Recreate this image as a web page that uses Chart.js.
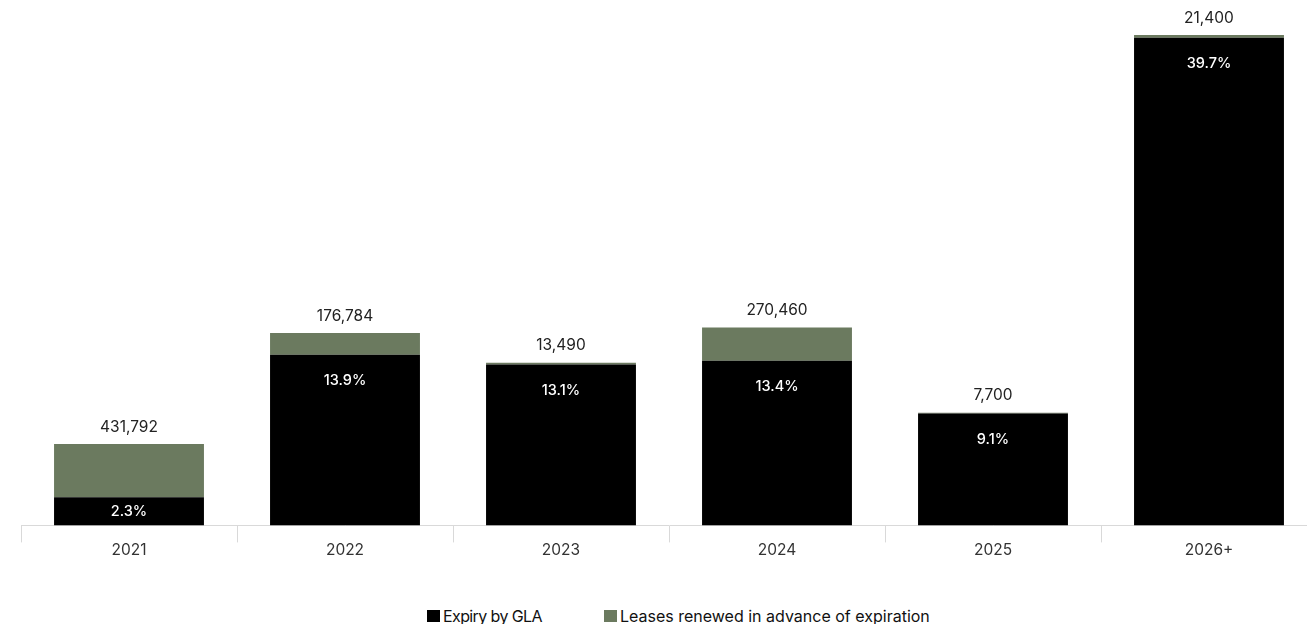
<!DOCTYPE html>
<html>
<head>
<meta charset="utf-8">
<script src="https://cdn.jsdelivr.net/npm/chart.js@4.4.1/dist/chart.umd.min.js"></script>
<style>
  html, body { margin: 0; padding: 0; background: #fff; overflow: hidden; width: 1307px; height: 624px; }
  #wrap { position: relative; width: 1307px; height: 624px; }
  #chart { position: absolute; left: 0; top: 0; }
  #legend { position: absolute; top: 606px; left: 0; font-family: Inter, "Noto Sans", sans-serif; font-size: 16px; color: #111; }
  .item { position: absolute; top: 0; display: flex; align-items: center; white-space: nowrap; }
  .box { width: 13px; height: 12px; margin-right: 3px; }
</style>
</head>
<body>
<div id="wrap">
  <canvas id="chart" width="1320" height="600"></canvas>
  <div id="legend"></div>
</div>
<script>
// Lease expiry schedule: share of GLA expiring per year, plus space renewed early (sq ft)
const years = ['2021', '2022', '2023', '2024', '2025', '2026+'];
const expiryPct = [2.3, 13.9, 13.1, 13.4, 9.1, 39.7];
const renewedSqft = [431792, 176784, 13490, 270460, 7700, 21400];
const totalGlaSqft = 10000000;
const seriesNames = ['Expiry by GLA', 'Leases renewed in advance of expiration'];
const seriesColors = ['#000000', '#6b7a5f'];

const renewedPct = renewedSqft.map(v => v / totalGlaSqft * 100);
const fontFamily = 'Inter, "Noto Sans", sans-serif';

const labelPlugin = {
  id: 'barLabels',
  afterDatasetsDraw(chart) {
    const ctx = chart.ctx;
    const base = chart.getDatasetMeta(0).data;
    const top = chart.getDatasetMeta(1).data;
    ctx.save();
    ctx.textAlign = 'center';
    ctx.textBaseline = 'middle';
    base.forEach((bar, i) => {
      // percentage inside the black bar, near its top
      const h = bar.base - bar.y;
      const y = Math.min(bar.y + 26, bar.y + h / 2);
      ctx.fillStyle = '#ffffff';
      ctx.font = '500 14.5px ' + fontFamily;
      ctx.fillText(expiryPct[i].toFixed(1) + '%', bar.x, y);
      // renewed area above the stack
      ctx.fillStyle = '#222222';
      ctx.font = '400 15.5px ' + fontFamily;
      ctx.fillText(renewedSqft[i].toLocaleString('en-US'), bar.x, top[i].y - 17);
    });
    ctx.restore();
  }
};

new Chart(document.getElementById('chart'), {
  type: 'bar',
  data: {
    labels: years,
    datasets: [
      { label: seriesNames[0], data: expiryPct, backgroundColor: seriesColors[0] },
      { label: seriesNames[1], data: renewedPct, backgroundColor: seriesColors[1] }
    ]
  },
  options: {
    responsive: false,
    animation: false,
    layout: { padding: { left: 21, right: 3, top: 34, bottom: 41 } },
    datasets: { bar: { categoryPercentage: 1, barPercentage: 0.694, borderWidth: 0 } },
    plugins: { legend: { display: false }, tooltip: { enabled: false } },
    scales: {
      x: {
        stacked: true,
        grid: { offset: true, drawOnChartArea: false, tickLength: 17, color: '#d9d9d9', lineWidth: 1 },
        border: { color: '#d9d9d9', width: 1 },
        ticks: { padding: -1, color: '#333333', font: { family: fontFamily, size: 15.5 } }
      },
      y: { stacked: true, display: false, min: 0, max: 40 }
    }
  },
  plugins: [labelPlugin]
});

// legend entries below the axis
const legend = document.getElementById('legend');
const legendLeft = [427, 604];
seriesNames.forEach((name, i) => {
  const item = document.createElement('div');
  item.className = 'item';
  item.style.left = legendLeft[i] + 'px';
  const box = document.createElement('span');
  box.className = 'box';
  box.style.background = seriesColors[i];
  const txt = document.createElement('span');
  txt.textContent = name;
  if (i === 0) txt.style.letterSpacing = '-0.6px';
  item.appendChild(box);
  item.appendChild(txt);
  legend.appendChild(item);
});
</script>
</body>
</html>
